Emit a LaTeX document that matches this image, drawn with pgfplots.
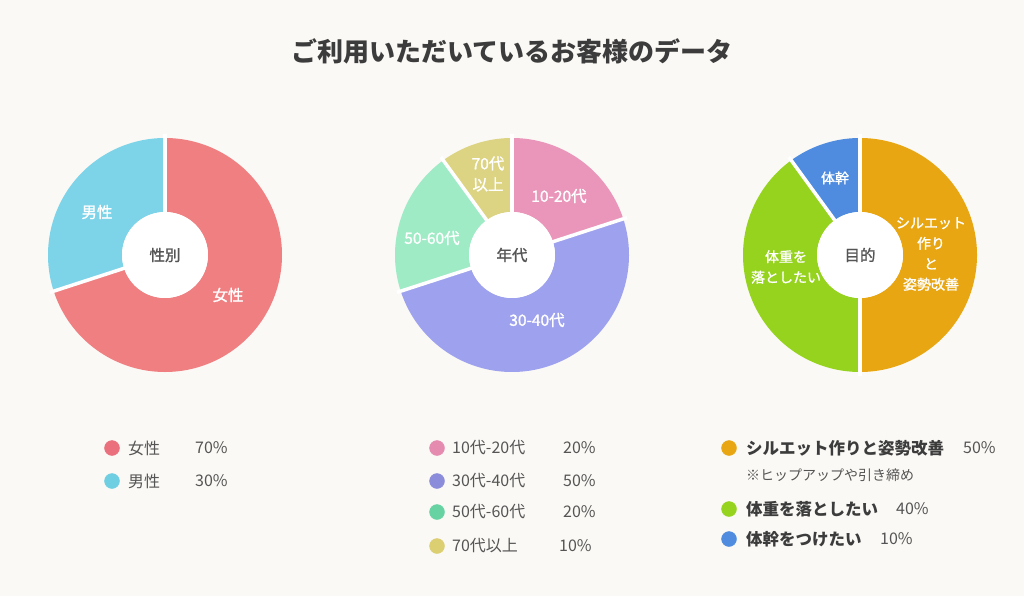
\documentclass[border=0pt]{standalone}
\usepackage{pgfplots}
\pgfplotsset{compat=1.18}
\usepackage{fontspec}
\setmainfont{Noto Sans CJK JP}
\newfontfamily\medium{Noto Sans CJK JP}[FakeBold=1.3]
\definecolor{bg}{HTML}{FAF9F5}
\definecolor{cW}{HTML}{F07F82}
\definecolor{cM}{HTML}{7DD3E8}
\definecolor{cA}{HTML}{E996BA}
\definecolor{cB}{HTML}{9EA2EE}
\definecolor{cC}{HTML}{9EEBC6}
\definecolor{cD}{HTML}{DCD383}
\definecolor{cO}{HTML}{E8A712}
\definecolor{cG}{HTML}{95D31E}
\definecolor{cL}{HTML}{4F8CE0}
\definecolor{dW}{HTML}{E9707C}
\definecolor{dM}{HTML}{6FCFE2}
\definecolor{dA}{HTML}{E68BB0}
\definecolor{dB}{HTML}{8C8DDA}
\definecolor{dC}{HTML}{67D3A2}
\definecolor{dD}{HTML}{DCCF72}
\definecolor{txt}{HTML}{555555}
\definecolor{ttl}{HTML}{3C3C3C}
% slice: cx, cy, start percent, percent, colour
\newcommand{\slice}[5]{%
  \pgfmathsetmacro\aA{90-3.6*(#3)}%
  \pgfmathsetmacro\aB{90-3.6*((#3)+(#4))}%
  \addplot[draw=#5, line width=74bp, line cap=butt, domain=\aB:\aA, samples=120, variable=\t] ({#1+80*cos(\t)},{#2+80*sin(\t)});
}
% gap: cx, cy, percent position
\newcommand{\gap}[3]{%
  \pgfmathsetmacro\gA{90-3.6*(#3)}%
  \addplot[draw=white, line width=3.5bp, domain=38:121, samples=2, variable=\s] ({#1+\s*cos(\gA)},{#2+\s*sin(\gA)});
}
\newcommand{\lab}{\medium\fontsize{15.5bp}{21bp}\selectfont}
\newcommand{\labs}{\medium\fontsize{14bp}{20.5bp}\selectfont}
\newcommand{\leg}{\fontsize{16bp}{19bp}\selectfont}
\newcommand{\legb}{\fontsize{16.5bp}{19bp}\selectfont\bfseries}
\begin{document}
\begin{tikzpicture}
\begin{axis}[
  width=1024bp, height=596bp, scale only axis,
  xmin=0, xmax=1024, ymin=0, ymax=596,
  axis lines=none, ticks=none, clip=false,
]
\fill[bg] (axis cs:0,0) rectangle (axis cs:1024,596);
% Title
\node[font=\fontsize{26bp}{30bp}\selectfont\bfseries, text=ttl] at (axis cs:512,545) {ご利用いただいているお客様のデータ};

% ---------- Pie 1: 性別 (女性 70, 男性 30)
\slice{165}{341}{0}{70}{cW}
\slice{165}{341}{70}{30}{cM}
\gap{165}{341}{0}
\gap{165}{341}{70}
\fill[white] (axis cs:165,341) circle[radius=43bp];
\node[font=\lab, text=white] at (axis cs:97,384) {男性};
\node[font=\lab, text=white] at (axis cs:228,301) {女性};
\node[font=\lab, text=txt] at (axis cs:165,341) {性別};

% ---------- Pie 2: 年代 (20, 50, 20, 10)
\slice{512}{341}{0}{20}{cA}
\slice{512}{341}{20}{50}{cB}
\slice{512}{341}{70}{20}{cC}
\slice{512}{341}{90}{10}{cD}
\gap{512}{341}{0}
\gap{512}{341}{20}
\gap{512}{341}{70}
\gap{512}{341}{90}
\fill[white] (axis cs:512,341) circle[radius=43bp];
\node[font=\lab, text=white, align=center] at (axis cs:488,422) {70代\\以上};
\node[font=\lab, text=white] at (axis cs:559,400) {10-20代};
\node[font=\lab, text=white] at (axis cs:432,358) {50-60代};
\node[font=\lab, text=white] at (axis cs:537,276) {30-40代};
\node[font=\lab, text=txt] at (axis cs:512,341) {年代};

% ---------- Pie 3: 目的 (50, 40, 10)
\slice{860}{341}{0}{50}{cO}
\slice{860}{341}{50}{40}{cG}
\slice{860}{341}{90}{10}{cL}
\gap{860}{341}{0}
\gap{860}{341}{50}
\gap{860}{341}{90}
\fill[white] (axis cs:860,341) circle[radius=43bp];
\node[font=\labs, text=white] at (axis cs:835,418) {体幹};
\node[font=\labs, text=white, align=center] at (axis cs:931,342) {シルエット\\作り\\と\\姿勢改善};
\node[font=\labs, text=white, align=center] at (axis cs:786,329) {体重を\\落としたい};
\node[font=\lab, text=txt] at (axis cs:860,341) {目的};

% ---------- Legends
\addplot[only marks, mark=*, mark size=7.5bp, color=dW] coordinates {(112,148)};
\addplot[only marks, mark=*, mark size=7.5bp, color=dM] coordinates {(112,115)};
\node[font=\leg, text=txt, anchor=west, inner sep=0] at (axis cs:128,148) {女性};
\node[font=\leg, text=txt, anchor=west, inner sep=0] at (axis cs:195,148) {70\%};
\node[font=\leg, text=txt, anchor=west, inner sep=0] at (axis cs:128,115) {男性};
\node[font=\leg, text=txt, anchor=west, inner sep=0] at (axis cs:195,115) {30\%};

\addplot[only marks, mark=*, mark size=7.5bp, color=dA] coordinates {(437,148)};
\addplot[only marks, mark=*, mark size=7.5bp, color=dB] coordinates {(437,115)};
\addplot[only marks, mark=*, mark size=7.5bp, color=dC] coordinates {(437,84)};
\addplot[only marks, mark=*, mark size=7.5bp, color=dD] coordinates {(437,50)};
\node[font=\leg, text=txt, anchor=west, inner sep=0] at (axis cs:452,148) {10代-20代};
\node[font=\leg, text=txt, anchor=west, inner sep=0] at (axis cs:563,148) {20\%};
\node[font=\leg, text=txt, anchor=west, inner sep=0] at (axis cs:452,115) {30代-40代};
\node[font=\leg, text=txt, anchor=west, inner sep=0] at (axis cs:563,115) {50\%};
\node[font=\leg, text=txt, anchor=west, inner sep=0] at (axis cs:452,84) {50代-60代};
\node[font=\leg, text=txt, anchor=west, inner sep=0] at (axis cs:563,84) {20\%};
\node[font=\leg, text=txt, anchor=west, inner sep=0] at (axis cs:452,50) {70代以上};
\node[font=\leg, text=txt, anchor=west, inner sep=0] at (axis cs:559,50) {10\%};

\addplot[only marks, mark=*, mark size=7.5bp, color=cO] coordinates {(729,148)};
\addplot[only marks, mark=*, mark size=7.5bp, color=cG] coordinates {(729,87)};
\addplot[only marks, mark=*, mark size=7.5bp, color=cL] coordinates {(729,57)};
\node[font=\legb, text=ttl, anchor=west, inner sep=0] at (axis cs:746,148) {シルエット作りと姿勢改善};
\node[font=\leg, text=txt, anchor=west, inner sep=0] at (axis cs:963,148) {50\%};
\node[font=\fontsize{14bp}{16bp}\selectfont, text=txt, anchor=west, inner sep=0] at (axis cs:746,121) {※ヒップアップや引き締め};
\node[font=\legb, text=ttl, anchor=west, inner sep=0] at (axis cs:746,87) {体重を落としたい};
\node[font=\leg, text=txt, anchor=west, inner sep=0] at (axis cs:896,87) {40\%};
\node[font=\legb, text=ttl, anchor=west, inner sep=0] at (axis cs:746,57) {体幹をつけたい};
\node[font=\leg, text=txt, anchor=west, inner sep=0] at (axis cs:880,57) {10\%};
\end{axis}
\end{tikzpicture}
\end{document}
